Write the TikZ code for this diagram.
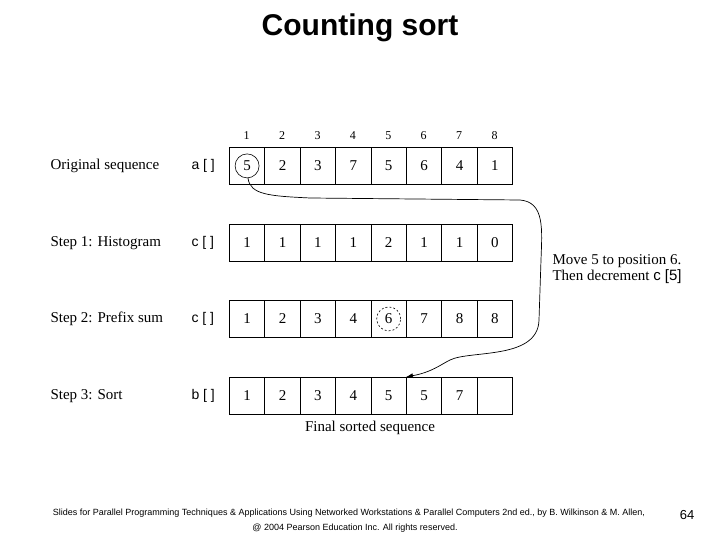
\documentclass[tikz,border=0pt]{standalone}
\usepackage{fontspec}
\setmainfont{Liberation Serif}
\setsansfont{Liberation Sans}
\usetikzlibrary{arrows.meta}
\begin{document}
\begin{tikzpicture}[x=1pt,y=-1pt,
  cell/.style={draw,line width=0.8pt,minimum width=35.4pt,minimum height=37pt,inner sep=0pt,font=\fontsize{15}{15}\selectfont,anchor=north west},
  lab/.style={anchor=west,font=\fontsize{15}{15}\selectfont},
  arr/.style={anchor=west,font=\sffamily\fontsize{14}{14}\selectfont}]
\useasboundingbox (0,0) rectangle (720,540);
\node[font=\sffamily\bfseries\fontsize{30}{30}\selectfont] (title) at (360,28) {Counting sort};
\foreach \i in {1,...,8} \node[font=\fontsize{12}{12}\selectfont] (h\i) at ({229+35.4*(\i-0.5)},136) {\i};
\foreach \r/\y/\vals in {a/147/{5,2,3,7,5,6,4,1},c/224/{1,1,1,1,2,1,1,0},p/300/{1,2,3,4,6,7,8,8},b/377/{1,2,3,4,5,5,7,{}}}{
  \foreach \v [count=\i] in \vals \node[cell] (\r\i) at ({229+35.4*(\i-1)},\y) {\v};
}
\node[lab] (l1) at (47,166) {Original sequence};
\node[lab] (l2) at (47,243) {Step 1: Histogram};
\node[lab] (l3) at (47,319) {Step 2: Prefix sum};
\node[lab] (l4) at (47,396) {Step 3: Sort};
\node[arr] (n1) at (188,166) {a [ ]};
\node[arr] (n2) at (188,243) {c [ ]};
\node[arr] (n3) at (188,319) {c [ ]};
\node[arr] (n4) at (188,396) {b [ ]};
\draw[line width=0.6pt] (a1.center) circle (12pt);
\draw[line width=0.6pt,dash pattern=on 2pt off 2pt] (p5.center) circle (12pt);
\coordinate (s) at (248,178);
\draw[line width=0.7pt,-{Latex[length=7pt,width=5pt]}] (s) .. controls (250,195) and (270,196) .. (310,198)
  -- (520,200) .. controls (545,202) and (542,230) .. (541,260) -- (539,320)
  .. controls (538,360) and (470,350) .. (450,360) .. controls (440,365) and (432,372) .. (b6.north west);
\node[anchor=west,align=left,font=\fontsize{15}{16}\selectfont] (note) at (549,269) {Move 5 to position 6.\\Then decrement {\sffamily c [5]}};
\node[font=\fontsize{15}{15}\selectfont] (fin) at (370,428) {Final sorted sequence};
\node[font=\sffamily\fontsize{9}{9}\selectfont] (f1) at (349,513) {Slides for Parallel Programming Techniques \& Applications Using Networked Workstations \& Parallel Computers 2nd ed., by B. Wilkinson \& M. Allen,};
\node[font=\sffamily\fontsize{9}{9}\selectfont] (f2) at (355,528) {@ 2004 Pearson Education Inc. All rights reserved.};
\node[font=\sffamily\fontsize{13}{13}\selectfont] (pg) at (687,515) {64};
\end{tikzpicture}
\end{document}
